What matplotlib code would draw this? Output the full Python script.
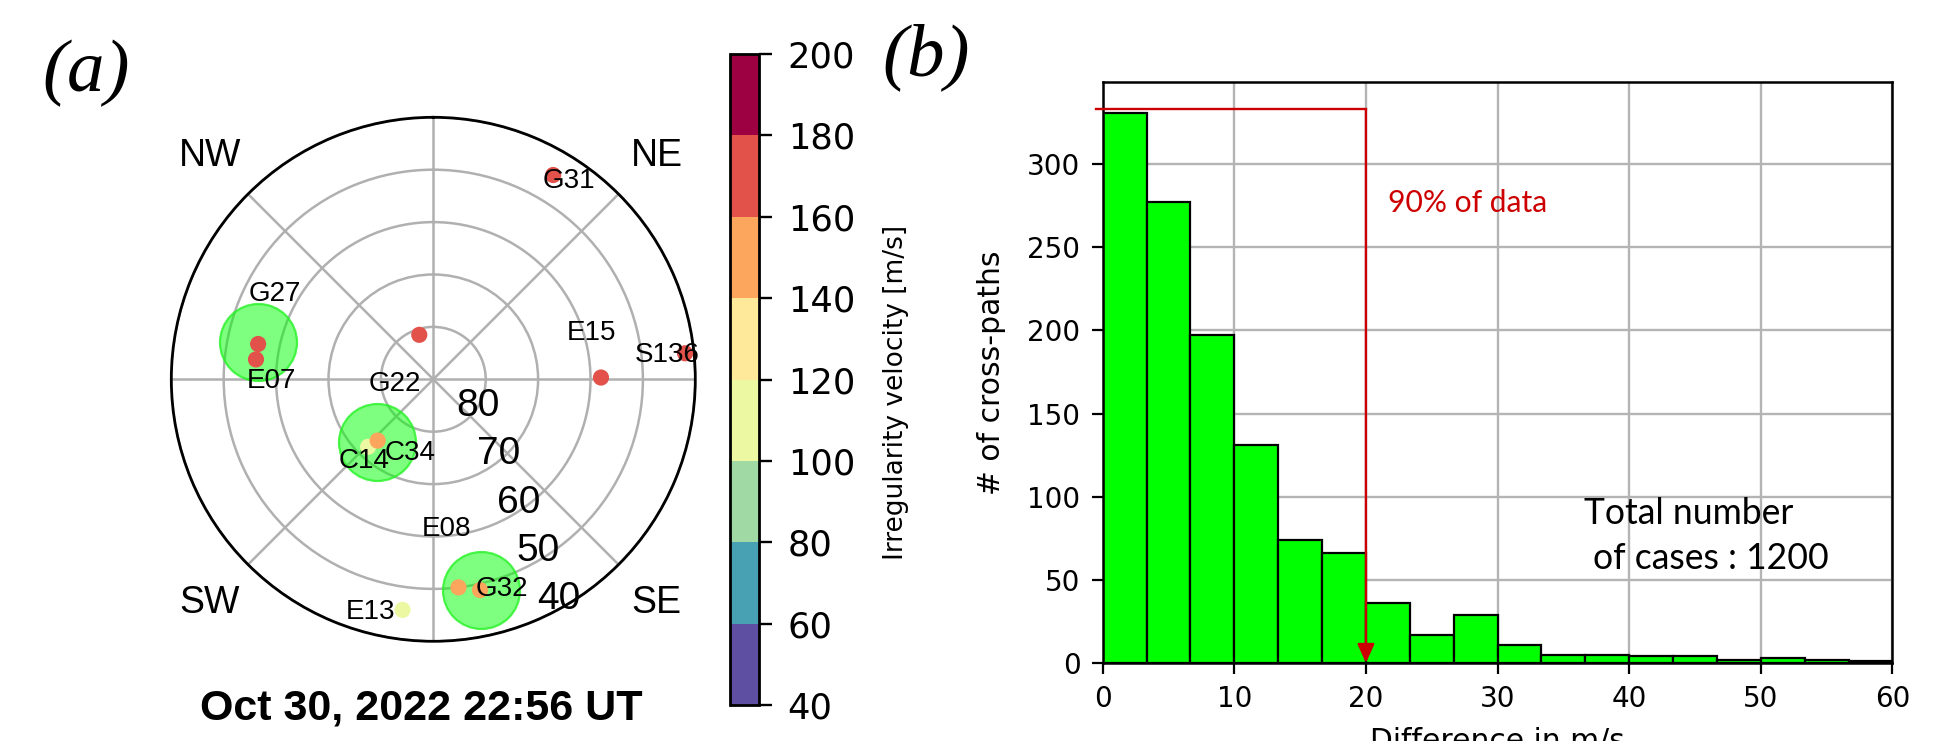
import numpy as np
import matplotlib
matplotlib.use("Agg")
import matplotlib.pyplot as plt
from matplotlib.colors import Normalize
from matplotlib.cm import ScalarMappable
from matplotlib.transforms import ScaledTranslation

# ---------------- data ----------------
# panel (a): sky plot (azimuth deg clockwise from N, elevation deg)
pt_az = [30.4, 84.1, 89.4, 342.5, 281.4, 276.4, 224.0, 222.2, 173.1, 167.5, 187.6]
pt_el = [44.8, 41.7, 58.0, 81.1, 55.9, 55.95, 72.1, 74.2, 50.0, 48.8, 45.6]
pt_vel = [170, 170, 170, 170, 170, 170, 110, 150, 150, 150, 110]

hl_az = [282.1, 221.8, 167.2]
hl_el = [55.8, 74.0, 48.7]

sat_names = ["G31", "S136", "E15", "G27", "E07", "G22", "C34", "C14", "E08", "G32", "E13"]
sat_az = [34.4, 84.1, 73.5, 298.4, 269.5, 262.7, 197.5, 220.3, 174.9, 161.9, 195.2]
sat_el = [44.1, 45.2, 58.6, 55.7, 59.2, 82.6, 75.2, 69.6, 61.3, 47.9, 44.0]

dir_names = ["NE", "SE", "SW", "NW"]
dir_az = [45, 135, 225, 315]
ring_vals = [80, 70, 60, 50, 40]

cbar_ticks = [40, 60, 80, 100, 120, 140, 160, 180, 200]

# panel (b): histogram
hist_counts = [331, 277, 197, 131, 74, 66, 36, 17, 29, 11, 5, 5, 4, 4, 2, 3, 2, 1]
hist_range = (0, 60)
x_ticks = [0, 10, 20, 30, 40, 50, 60]
y_ticks = [0, 50, 100, 150, 200, 250, 300]
line_level = 333
line_x = 20

W, H, DPI = 1941, 741, 200
fig = plt.figure(figsize=(W / DPI, H / DPI), dpi=DPI)

def fx(px):
    return px / W

def fy(py):
    return 1 - py / H

cmap = plt.get_cmap("Spectral_r", 8)
norm = Normalize(40, 200)
SANS = ["Liberation Sans", "DejaVu Sans"]

# ---------------- polar panel ----------------
cx, cy, R = 433.3, 379.3, 262.0
ax = fig.add_axes([fx(cx - R), fy(cy + R), 2 * R / W, 2 * R / H], projection="polar")
ax.set_theta_zero_location("N")
ax.set_theta_direction(-1)
ax.set_ylim(90, 40)
ax.set_yticks(ring_vals)
ax.set_yticklabels([])
ax.set_xticks(np.deg2rad(np.arange(0, 360, 45)))
ax.set_xticklabels([])
ax.grid(True, color="#b0b0b0", lw=0.9)
ax.spines["polar"].set_linewidth(1.0)

ax.scatter(np.deg2rad(hl_az), hl_el, s=768, facecolor=(0, 1, 0, 0.5),
           edgecolor=(0.15, 0.95, 0.15, 0.8), lw=0.8, zorder=3)
ax.scatter(np.deg2rad(pt_az), pt_el, c=pt_vel, cmap=cmap, norm=norm, s=34,
           zorder=4, linewidths=0)
for n, a, e in zip(sat_names, sat_az, sat_el):
    ax.text(np.deg2rad(a), e, n, ha="center", va="center", fontsize=10,
            family=SANS, zorder=6)
for n, a in zip(dir_names, dir_az):
    ax.text(np.deg2rad(a), 90 - 60.3, n, ha="center", va="center", fontsize=13.5,
            family=SANS, clip_on=False)
off = ScaledTranslation(24.8 / DPI, 22 / DPI, fig.dpi_scale_trans)
for v in ring_vals:
    ax.text(np.deg2rad(157.5), v, str(v), ha="center", va="center", fontsize=14,
            family=SANS, transform=ax.transData + off, zorder=6)

fig.text(fx(421), fy(719.3), "Oct 30, 2022 22:56 UT", ha="center", va="baseline",
         fontsize=15.5, fontweight="bold", family=SANS)
fig.text(fx(86), fy(73), "(a)", ha="center", va="center", fontsize=27,
         family=["Liberation Serif", "DejaVu Serif"], style="italic")
fig.text(fx(925.8), fy(57.3), "(b)", ha="center", va="center", fontsize=27,
         family=["Liberation Serif", "DejaVu Serif"], style="italic")

# ---------------- colorbar ----------------
cax = fig.add_axes([fx(729.6), fy(705.4), 29.8 / W, 651.8 / H])
sm = ScalarMappable(norm=norm, cmap=cmap)
cb = fig.colorbar(sm, cax=cax, ticks=cbar_ticks)
cb.outline.set_linewidth(1.0)
cax.tick_params(length=4.7, width=0.85, labelsize=12.7, pad=5.5)
fig.text(fx(896), fy(392), "Irregularity velocity [m/s]", rotation=90,
         ha="center", va="center", fontsize=9.5, family="DejaVu Sans")

# ---------------- histogram ----------------
hx0, hx1, hy0, hy1 = 1102.7, 1892.4, 81.7, 663.0
bx = fig.add_axes([fx(hx0), fy(hy1), (hx1 - hx0) / W, (hy1 - hy0) / H])
edges = np.linspace(hist_range[0], hist_range[1], len(hist_counts) + 1)
bx.bar(edges[:-1], hist_counts, width=np.diff(edges), align="edge",
       color="#00ff00", edgecolor="black", lw=0.8, zorder=2)
bx.set_xlim(*hist_range)
bx.set_xticks(x_ticks)
bx.set_yticks(y_ticks)
bx.set_axisbelow(True)
bx.grid(True, color="#b4b4b4", lw=0.85)
bx.tick_params(labelsize=10, length=4, width=0.8, pad=4)
for s in bx.spines.values():
    s.set_linewidth(0.9)

red = "#cc0000"
bx.plot([-0.48, line_x], [line_level, line_level], color=red, lw=0.85,
        clip_on=False, zorder=4)
bx.annotate("", xy=(line_x, 0), xytext=(line_x, line_level),
            arrowprops=dict(arrowstyle="-|>,head_length=0.4,head_width=0.18",
                            color=red, lw=0.85, shrinkA=0, shrinkB=0,
                            mutation_scale=14.5), zorder=4)
bx.text(21.7, 271.4, "90% of data", color=red, fontsize=10.8,
        family=["Lato", "DejaVu Sans"], ha="left", va="baseline")
bx.text(36.6, 83.9, "Total number", fontsize=12.8,
        family=["Lato", "DejaVu Sans"], ha="left", va="baseline")
bx.text(37.25, 56.3, "of cases : 1200", fontsize=12.8,
        family=["Lato", "DejaVu Sans"], ha="left", va="baseline")

fig.text(fx(991), fy(373), "# of cross-paths", rotation=90, ha="center",
         va="center", fontsize=10.7, family="DejaVu Sans")
fig.text(fx((hx0 + hx1) / 2), fy(727), "Difference in m/s", ha="center",
         va="top", fontsize=10.7, family="DejaVu Sans")

fig.savefig("out.png", dpi=DPI)
